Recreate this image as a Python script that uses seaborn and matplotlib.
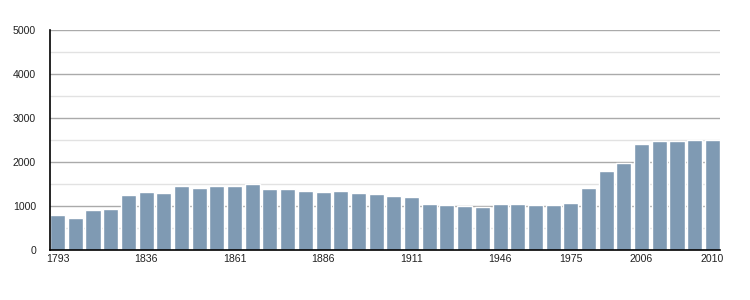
import matplotlib
matplotlib.use("Agg")
import matplotlib.pyplot as plt
from matplotlib.ticker import MultipleLocator
import seaborn as sns
import pandas as pd

years = [1793, 1800, 1806, 1821, 1831, 1836, 1841, 1846, 1851, 1856,
         1861, 1866, 1872, 1876, 1881, 1886, 1891, 1896, 1901, 1906,
         1911, 1921, 1926, 1931, 1936, 1946, 1954, 1962, 1968, 1975,
         1982, 1990, 1999, 2006, 2007, 2008, 2009, 2010]
population = [800, 730, 912, 935, 1261, 1322, 1299, 1459, 1413, 1459,
              1459, 1489, 1390, 1390, 1345, 1322, 1345, 1299, 1277, 1231,
              1208, 1049, 1026, 1003, 980, 1049, 1049, 1026, 1026, 1071,
              1413, 1801, 1983, 2416, 2485, 2485, 2508, 2508]
labeled_years = [1793, 1836, 1861, 1886, 1911, 1946, 1975, 2006, 2010]

df = pd.DataFrame({"year": [str(y) for y in years], "pop": population})

sns.set_style("white")
plt.rcParams['font.family'] = ['Liberation Sans', 'DejaVu Sans']

fig = plt.figure(figsize=(7.5, 3), dpi=100)
ax = fig.add_axes([50/750, 1 - 250/300, 670/750, 220/300])

sns.barplot(data=df, x="year", y="pop", color="#7F9AB3", saturation=1,
            width=0.85, ax=ax, zorder=3)

ax.set_ylim(0, 5000)
ax.set_xlim(-0.43, len(years) - 0.57)
ax.yaxis.set_major_locator(MultipleLocator(1000))
ax.yaxis.set_minor_locator(MultipleLocator(500))
ax.grid(axis="y", which="major", color="#AAAAAA", linewidth=1, zorder=0)
ax.grid(axis="y", which="minor", color="#E2E2E2", linewidth=1, zorder=0)
ax.set_axisbelow(True)

pos = [years.index(y) for y in labeled_years]
ax.set_xticks(pos)
ax.set_xticklabels([str(y) for y in labeled_years])
ax.tick_params(axis="x", length=0, pad=3, labelsize=7.6, labelcolor="#222222")
ax.tick_params(axis="y", which="major", length=5, width=1, color="black",
               pad=5, labelsize=7.6, labelcolor="#222222", direction="out")
ax.tick_params(axis="y", which="minor", length=3, width=1, color="black", direction="out")
ax.set_xlabel("")
ax.set_ylabel("")

for s in ["top", "right"]:
    ax.spines[s].set_visible(False)
for s in ["left", "bottom"]:
    ax.spines[s].set_color("black")
    ax.spines[s].set_linewidth(1.2)
    ax.spines[s].set_zorder(4)

fig.savefig("out.png", dpi=100)
